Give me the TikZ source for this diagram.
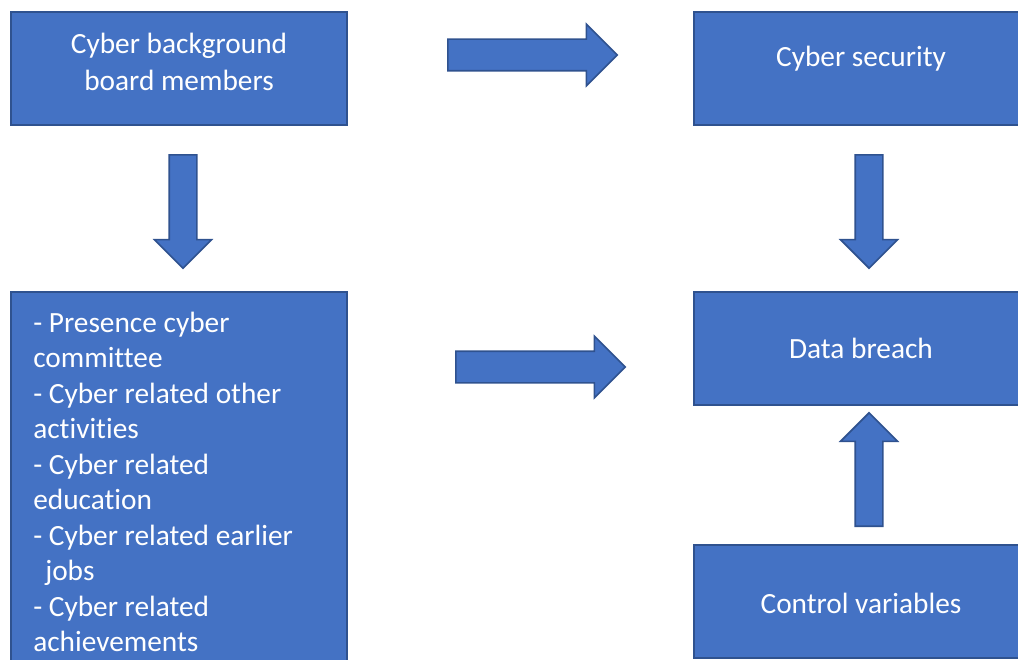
\documentclass[tikz,border=0pt]{standalone}
\usepackage{fontspec}
\setmainfont{Carlito}[Ligatures=NoCommon]
\usetikzlibrary{shapes.arrows}
\definecolor{boxblue}{RGB}{68,114,196}
\definecolor{boxline}{RGB}{47,82,143}
\tikzset{
  box/.style={draw=boxline, fill=boxblue, line width=1.2pt,
    minimum width=252pt, minimum height=84.75pt, inner sep=0pt},
  boxtext/.style={text=white, inner sep=0pt, anchor=base,
    font=\fontsize{22}{26.8}\selectfont},
  listline/.style={boxtext, anchor=base west},
  barrow/.style={single arrow, draw=boxline, fill=boxblue, line width=1.2pt,
    inner xsep=0pt, minimum width=0pt, single arrow tip angle=90, anchor=tail},
  harrow/.style={barrow, inner ysep=11.25pt, single arrow head extend=11.25pt,
    minimum height=127pt},
  varrow/.style={barrow, inner ysep=9.75pt, single arrow head extend=11pt,
    minimum height=85pt}
}
\begin{document}
\begin{tikzpicture}[x=0.75pt, y=-0.75pt]
\clip (0,0) rectangle (1018,660);
% boxes
\node[box] (cbm) at (179,68.5) {};
\node[box] (sec) at (862,68.5) {};
\node[box] (brc) at (862,348.5) {};
\node[box] (ctl) at (862,601.5) {};
\node[box, minimum height=300pt] (det) at (179,492) {};
% box texts
\node[boxtext] (cbmtop) at (179,54) {Cyber background};
\node[boxtext] (cbmbot) at (179,91) {board members};
\node[boxtext] (sectext) at (861,67) {Cyber security};
\node[boxtext] (brctext) at (861,358) {Data breach};
\node[boxtext] (ctltext) at (861,613) {Control variables};
\foreach \txt [count=\k from 0] in {- Presence cyber, committee,
  - Cyber related other, activities, - Cyber related, education,
  - Cyber related earlier, \hspace{9pt}jobs, - Cyber related, achievements}{
\node[listline] (det\k) at (33, {332+35.5*\k}) {\txt};
}
% block arrows
\node[harrow] (cbmsec) at (447,55) {};
\node[harrow] (detbrc) at (455,367) {};
\node[varrow, rotate=-90] (cbmdet) at (183,154) {};
\node[varrow, rotate=-90] (secbrc) at (869,154) {};
\node[varrow, rotate=90] (ctlbrc) at (869,527) {};
\end{tikzpicture}
\end{document}
